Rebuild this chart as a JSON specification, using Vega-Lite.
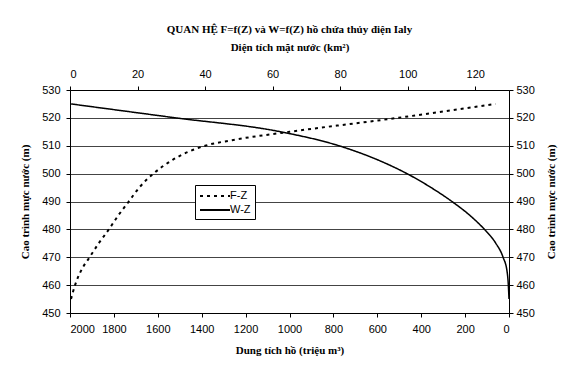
{
  "$schema": "https://vega.github.io/schema/vega-lite/v6.json",
  "width": 439,
  "height": 223,
  "padding": {"left": 19, "top": 24, "right": 10, "bottom": 20},
  "background": "white",
  "title": {
    "text": "QUAN HỆ F=f(Z) và W=f(Z) hồ chứa thủy điện Ialy",
    "font": "Liberation Serif",
    "fontSize": 11,
    "fontWeight": "bold",
    "color": "black",
    "anchor": "middle",
    "offset": 6
  },
  "data": {
    "values": [
      {"s": "F-Z", "Z": 455, "F": 0.3},
      {"s": "F-Z", "Z": 460, "F": 1.5},
      {"s": "F-Z", "Z": 465, "F": 3.2},
      {"s": "F-Z", "Z": 470, "F": 5.8},
      {"s": "F-Z", "Z": 475, "F": 8.5},
      {"s": "F-Z", "Z": 480, "F": 11.5},
      {"s": "F-Z", "Z": 485, "F": 14.3},
      {"s": "F-Z", "Z": 490, "F": 17.4},
      {"s": "F-Z", "Z": 495, "F": 20.5},
      {"s": "F-Z", "Z": 500, "F": 24.7},
      {"s": "F-Z", "Z": 505, "F": 30.5},
      {"s": "F-Z", "Z": 510, "F": 40},
      {"s": "F-Z", "Z": 512, "F": 48},
      {"s": "F-Z", "Z": 515, "F": 65},
      {"s": "F-Z", "Z": 520, "F": 97},
      {"s": "F-Z", "Z": 525, "F": 126},
      {"s": "W-Z", "Z": 455, "W": 0},
      {"s": "W-Z", "Z": 460, "W": 3},
      {"s": "W-Z", "Z": 465, "W": 9},
      {"s": "W-Z", "Z": 470, "W": 27},
      {"s": "W-Z", "Z": 475, "W": 60},
      {"s": "W-Z", "Z": 480, "W": 112},
      {"s": "W-Z", "Z": 485, "W": 178},
      {"s": "W-Z", "Z": 490, "W": 260},
      {"s": "W-Z", "Z": 495, "W": 355},
      {"s": "W-Z", "Z": 500, "W": 465},
      {"s": "W-Z", "Z": 505, "W": 600},
      {"s": "W-Z", "Z": 510, "W": 775},
      {"s": "W-Z", "Z": 515, "W": 1040},
      {"s": "W-Z", "Z": 520, "W": 1518},
      {"s": "W-Z", "Z": 525, "W": 1995}
    ]
  },
  "layer": [
    {
      "transform": [{"filter": "datum.s === 'F-Z'"}],
      "mark": {"type": "line", "color": "black", "strokeWidth": 2, "interpolate": "monotone"},
      "encoding": {
        "x": {
          "field": "F", "type": "quantitative",
          "scale": {"domain": [0, 130], "nice": false, "zero": false},
          "axis": {
            "orient": "top",
            "title": "Diện tích mặt nước (km²)",
            "values": [0, 20, 40, 60, 80, 100, 120],
            "grid": false,
            "labelPadding": 7,
            "titlePadding": 16
          }
        },
        "y": {
          "field": "Z", "type": "quantitative",
          "scale": {"domain": [450, 530], "nice": false, "zero": false},
          "axis": {
            "orient": "left",
            "title": "Cao trình mực nước (m)",
            "values": [450, 460, 470, 480, 490, 500, 510, 520, 530],
            "grid": true,
            "labelPadding": 6,
            "titlePadding": 11
          }
        },
        "order": {"field": "Z", "type": "quantitative"},
        "strokeDash": {
          "field": "s", "type": "nominal",
          "scale": {"domain": ["F-Z", "W-Z"], "range": [[3, 4], [1, 0]]},
          "legend": {
            "title": null,
            "orient": "none",
            "legendX": 125,
            "legendY": 95,
            "fillColor": "white",
            "strokeColor": "black",
            "padding": 4,
            "symbolType": "M-2.5,0H2.5",
            "symbolSize": 144,
            "symbolOffset": 9,
            "symbolStrokeColor": "black",
            "symbolStrokeWidth": 2,
            "labelOffset": 8,
            "labelFont": "Liberation Sans",
            "labelFontSize": 11,
            "labelColor": "black",
            "rowPadding": 2,
            "cornerRadius": 0
          }
        }
      }
    },
    {
      "transform": [{"filter": "datum.s === 'W-Z'"}],
      "mark": {"type": "line", "color": "black", "strokeWidth": 1.5, "interpolate": "monotone"},
      "encoding": {
        "x": {
          "field": "W", "type": "quantitative",
          "scale": {"domain": [0, 2000], "reverse": true, "nice": false},
          "axis": {
            "orient": "bottom",
            "title": "Dung tích hồ (triệu m³)",
            "values": [0, 200, 400, 600, 800, 1000, 1200, 1400, 1600, 1800, 2000],
            "format": "d",
            "labelOverlap": false,
            "grid": false,
            "labelPadding": 6,
            "titlePadding": 10
          }
        },
        "y": {
          "field": "Z", "type": "quantitative",
          "scale": {"domain": [450, 530], "nice": false, "zero": false},
          "axis": {
            "orient": "right",
            "title": "Cao trình mực nước (m)",
            "titleAngle": 270,
            "values": [450, 460, 470, 480, 490, 500, 510, 520, 530],
            "grid": false,
            "labelPadding": 3,
            "titlePadding": 22
          }
        },
        "order": {"field": "Z", "type": "quantitative"},
        "strokeDash": {"field": "s", "type": "nominal"}
      }
    }
  ],
  "resolve": {
    "scale": {"x": "independent"},
    "axis": {"x": "independent", "y": "independent"}
  },
  "config": {
    "view": {"stroke": null},
    "axis": {
      "domainColor": "black",
      "domainWidth": 1,
      "tickColor": "black",
      "tickSize": 4,
      "labelFont": "Liberation Sans",
      "labelFontSize": 11,
      "labelColor": "black",
      "labelOverlap": false,
      "titleFont": "Liberation Serif",
      "titleFontSize": 11,
      "titleFontWeight": "bold",
      "titleColor": "black",
      "gridColor": "#444",
      "gridWidth": 1,
      "gridOpacity": 1
    }
  }
}
